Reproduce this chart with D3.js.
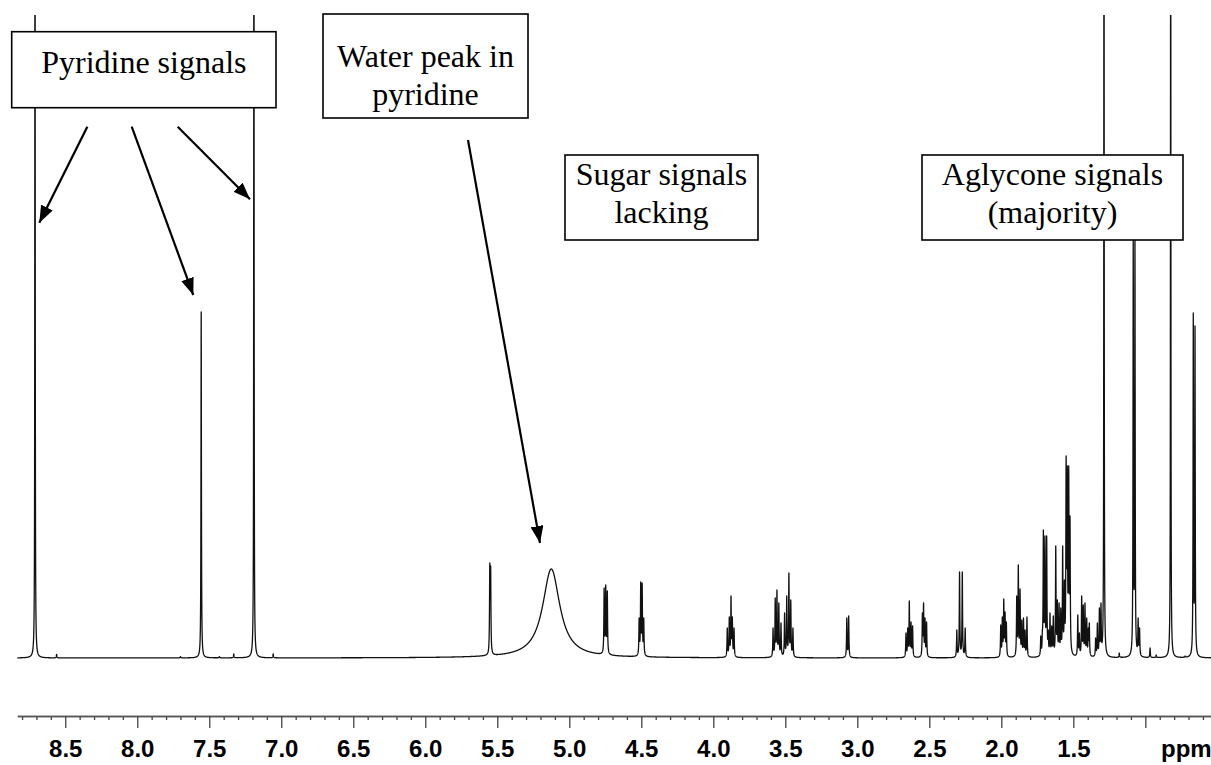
<!DOCTYPE html>
<html><head><meta charset="utf-8">
<script src="https://cdn.jsdelivr.net/npm/d3@7"></script>
<style>body{margin:0;background:#fff}svg{display:block}</style>
</head><body><svg id="c" width="1211" height="765"></svg>
<script>
// ---- data (chemical shift, peak height in plot units) ----
const peakPpm = [
  8.710, 8.560, 7.700, 7.556, 7.430, 7.330, 7.190, 7.056,
  5.552, 5.546, 5.125,
  4.758, 4.747, 4.736,
  4.515, 4.504, 4.494, 4.483,
  3.903, 3.889, 3.877, 3.868, 3.856,
  3.585, 3.570, 3.558, 3.545, 3.530, 3.505, 3.490, 3.475, 3.462, 3.447,
  3.073, 3.060,
  2.662, 2.650, 2.639, 2.627, 2.616,
  2.548, 2.540, 2.530, 2.519,
  2.309, 2.290, 2.271, 2.251,
  2.004, 1.993, 1.983, 1.974, 1.965,
  1.893, 1.882, 1.870, 1.858, 1.846, 1.835, 1.822,
  1.726, 1.715, 1.708, 1.697, 1.685, 1.674, 1.662, 1.650, 1.639,
  1.622, 1.611, 1.599, 1.587, 1.574, 1.562, 1.550, 1.542, 1.532, 1.523,
  1.469, 1.458, 1.442, 1.431, 1.419, 1.407, 1.396, 1.389,
  1.345, 1.333, 1.319, 1.308,
  1.287, 1.181, 1.084, 1.072, 1.050, 1.040, 0.967, 0.925,
  0.824, 0.724, 0.667, 0.655
];
const peakHeight = [
  1000, 3.5, 1.5, 346, 1.5, 4, 1000, 4,
  95, 92, 89,
  70, 73, 67,
  40, 76, 75, 40,
  30, 41, 62, 41, 30,
  30, 60, 68, 55, 35, 45, 62, 85, 58, 30,
  40, 42,
  25, 30, 57, 36, 32,
  45, 55, 40, 36,
  28, 86, 86, 30,
  33, 41, 59, 46, 36,
  62, 93, 69, 38, 40, 28, 41,
  22, 28, 128, 122, 122, 28, 45, 32, 42,
  112, 58, 55, 50, 112, 78, 202, 192, 192, 142,
  43, 25, 62, 53, 55, 40, 30, 35,
  20, 35, 50, 55,
  1000, 5, 420, 420, 40, 30, 10, 3,
  1000, 2, 345, 332
];
const peakHwhm = peakPpm.map((p, i) =>
  peakHeight[i] >= 900 ? 0.0014 : (p === 5.125 ? 0.072 : (peakHeight[i] > 300 ? 0.0018 : 0.0022)));

const majorTicks = [8.5, 8.0, 7.5, 7.0, 6.5, 6.0, 5.5, 5.0, 4.5, 4.0, 3.5, 3.0, 2.5, 2.0, 1.5, 1.0];
const tickLabels = ["8.5", "8.0", "7.5", "7.0", "6.5", "6.0", "5.5", "5.0", "4.5", "4.0", "3.5", "3.0", "2.5", "2.0", "1.5", ""];
const minorTicks = d3.range(88, 5, -1).map(v => v / 10).filter(v => Math.round(v * 10) % 5 !== 0);
const unitLabel = "ppm";

// ---- scales ----
const W = 1211, H = 765;
const x = d3.scaleLinear().domain([8.833, 0.544]).range([17.3, 1211]);
const y = d3.scaleLinear().domain([0, 643]).range([658, 15]);

// ---- build spectrum from the peak list (Lorentzian lines) ----
const lor = (p, i) => { const g = peakHwhm[i], d = p - peakPpm[i]; return g * g / (d * d + g * g); };
const n = peakPpm.length;
const amp = peakHeight.slice();
for (let it = 0; it < 60; it++) {
  for (let i = 0; i < n; i++) {
    let s = 0;
    for (let j = 0; j < n; j++) if (j !== i) s += amp[j] * lor(peakPpm[i], j);
    amp[i] = Math.max(0, peakHeight[i] - s);
  }
}
const ppmGrid = d3.range(8.833, 0.544, -0.0004).concat(peakPpm).sort((a, b) => b - a);
const spectrum = ppmGrid.map(p => {
  let v = 0;
  for (let i = 0; i < n; i++) v += amp[i] * lor(p, i);
  return [p, v];
});

const svg = d3.select("#c");
svg.append("rect").attr("width", W).attr("height", H).attr("fill", "#fff");
const defs = svg.append("defs");
defs.append("clipPath").attr("id", "plot").append("rect")
  .attr("x", 0).attr("y", 15).attr("width", W).attr("height", 690);
defs.append("marker").attr("id", "ah").attr("viewBox", "0 0 10 10")
  .attr("refX", 10).attr("refY", 5).attr("markerUnits", "userSpaceOnUse")
  .attr("markerWidth", 17).attr("markerHeight", 13).attr("orient", "auto")
  .attr("preserveAspectRatio", "none")
  .append("path").attr("d", "M0,0 L10,5 L0,10 Z").attr("fill", "#000");

svg.append("g").attr("clip-path", "url(#plot)")
  .append("path").datum(spectrum)
  .attr("d", d3.line().x(d => x(d[0])).y(d => y(d[1])))
  .attr("fill", "none").attr("stroke", "#111").attr("stroke-width", 1.3)
  .attr("stroke-linejoin", "round");

// ---- axis ----
const axisY = 716;
svg.append("g").attr("transform", `translate(0,${axisY})`)
  .call(d3.axisBottom(x).tickValues(minorTicks).tickSize(4).tickSizeOuter(0).tickFormat(""));
const gMajor = svg.append("g").attr("transform", `translate(0,${axisY})`)
  .call(d3.axisBottom(x).tickValues(majorTicks).tickSize(12).tickSizeOuter(0).tickPadding(12)
    .tickFormat((d, i) => tickLabels[i]));
svg.selectAll(".domain").attr("stroke", "#555").attr("stroke-width", 1.6);
svg.selectAll(".tick line").attr("stroke", "#444").attr("stroke-width", 1.3);
gMajor.selectAll("text").attr("font-family", "'Liberation Sans', Arial, sans-serif")
  .attr("font-size", 24).attr("font-weight", "bold").attr("fill", "#000");
svg.append("text").attr("x", x(0.715)).attr("y", axisY + 24).attr("dy", "0.71em")
  .attr("text-anchor", "middle").attr("font-family", "'Liberation Sans', Arial, sans-serif")
  .attr("font-size", 24).attr("font-weight", "bold").text(unitLabel);

// ---- annotations ----
const serif = "'Liberation Serif', 'Times New Roman', serif";
function box(x0, y0, x1, y1, lines, baseline0, lh) {
  svg.append("rect").attr("x", x0).attr("y", y0).attr("width", x1 - x0).attr("height", y1 - y0)
    .attr("fill", "#fff").attr("stroke", "#000").attr("stroke-width", 1.6);
  lines.forEach((t, i) => svg.append("text").attr("x", (x0 + x1) / 2).attr("y", baseline0 + i * lh)
    .attr("text-anchor", "middle").attr("font-family", serif).attr("font-size", 32).attr("fill", "#000").text(t));
}
function arrow(x0, y0, x1, y1) {
  svg.append("line").attr("x1", x0).attr("y1", y0).attr("x2", x1).attr("y2", y1)
    .attr("stroke", "#000").attr("stroke-width", 2.2).attr("marker-end", "url(#ah)");
}
box(11.7, 31.7, 276, 107.7, ["Pyridine signals"], 73, 0);
box(323, 14, 528, 118, ["Water peak in", "pyridine"], 67, 38);
box(565, 155, 758, 240, ["Sugar signals", "lacking"], 185, 38);
box(922, 155, 1183, 240, ["Aglycone signals", "(majority)"], 185, 38);
arrow(87.3, 126.7, 39.3, 222.7);
arrow(131.7, 126.7, 193.3, 295);
arrow(177.7, 126.7, 250, 199.3);
arrow(468, 140, 540, 543);
</script></body></html>
